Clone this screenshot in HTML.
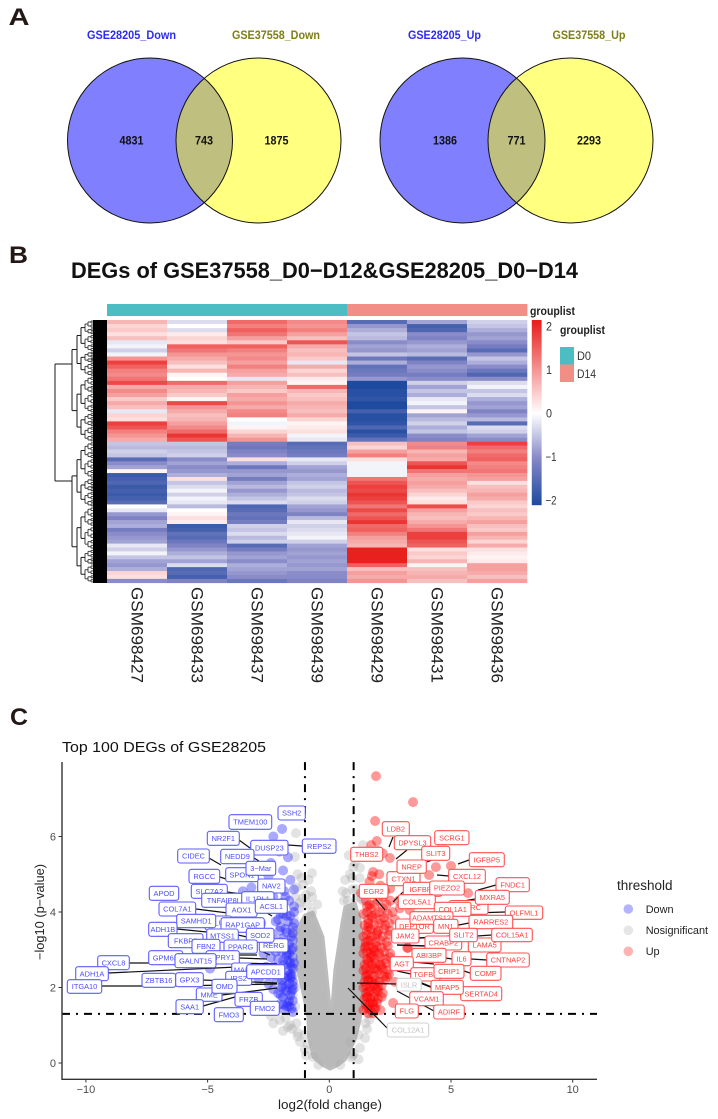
<!DOCTYPE html>
<html>
<head>
<meta charset="utf-8">
<title>DEG figure</title>
<style>
html,body{margin:0;padding:0;background:#fff;width:718px;height:1119px;overflow:hidden}
svg{display:block;filter:blur(.35px)}
text{font-family:"Liberation Sans",sans-serif}
</style>
</head>
<body>
<svg id="fig" xmlns="http://www.w3.org/2000/svg" width="718" height="1119" viewBox="0 0 718 1119">
  <defs>
    <clipPath id="clipA"><circle cx="150" cy="140.500" r="82.500"/></clipPath>
    <clipPath id="clipB"><circle cx="462.500" cy="140.500" r="82.500"/></clipPath>
    <clipPath id="plotClip"><rect x="62" y="762" width="535" height="317"/></clipPath>
  </defs>

  <text x="8.500" y="25" font-size="24" font-weight="bold" fill="#231815" textLength="21" lengthAdjust="spacingAndGlyphs">A</text>
  <text x="9" y="263" font-size="24" font-weight="bold" fill="#231815" textLength="19" lengthAdjust="spacingAndGlyphs">B</text>
  <text x="10" y="725" font-size="24" font-weight="bold" fill="#231815" textLength="18" lengthAdjust="spacingAndGlyphs">C</text>

  <g>
    <text x="87" y="39" font-size="11.500" font-weight="bold" fill="#2b2bf5" textLength="89" lengthAdjust="spacingAndGlyphs">GSE28205_Down</text>
    <text x="232" y="39" font-size="11.500" font-weight="bold" fill="#7f7f14" textLength="88" lengthAdjust="spacingAndGlyphs">GSE37558_Down</text>
    <circle cx="150" cy="140.500" r="82.500" fill="#8080ff"/>
    <circle cx="258.500" cy="140.500" r="82.500" fill="#ffff80"/>
    <circle cx="258.500" cy="140.500" r="82.500" fill="#bfbf80" clip-path="url(#clipA)"/>
    <circle cx="150" cy="140.500" r="82.500" fill="none" stroke="#111" stroke-width="1"/>
    <circle cx="258.500" cy="140.500" r="82.500" fill="none" stroke="#111" stroke-width="1"/>
    <text x="131.500" y="144.500" font-size="12" font-weight="bold" text-anchor="middle" fill="#111" textLength="24" lengthAdjust="spacingAndGlyphs">4831</text>
    <text x="204" y="144.500" font-size="12" font-weight="bold" text-anchor="middle" fill="#111" textLength="18" lengthAdjust="spacingAndGlyphs">743</text>
    <text x="276.500" y="144.500" font-size="12" font-weight="bold" text-anchor="middle" fill="#111" textLength="24" lengthAdjust="spacingAndGlyphs">1875</text>
  </g>
  <g>
    <text x="408" y="39" font-size="11.500" font-weight="bold" fill="#2b2bf5" textLength="73" lengthAdjust="spacingAndGlyphs">GSE28205_Up</text>
    <text x="552.500" y="39" font-size="11.500" font-weight="bold" fill="#7f7f14" textLength="73" lengthAdjust="spacingAndGlyphs">GSE37558_Up</text>
    <circle cx="462.500" cy="140.500" r="82.500" fill="#8080ff"/>
    <circle cx="570.500" cy="140.500" r="82.500" fill="#ffff80"/>
    <circle cx="570.500" cy="140.500" r="82.500" fill="#bfbf80" clip-path="url(#clipB)"/>
    <circle cx="462.500" cy="140.500" r="82.500" fill="none" stroke="#111" stroke-width="1"/>
    <circle cx="570.500" cy="140.500" r="82.500" fill="none" stroke="#111" stroke-width="1"/>
    <text x="445" y="144.500" font-size="12" font-weight="bold" text-anchor="middle" fill="#111" textLength="24" lengthAdjust="spacingAndGlyphs">1386</text>
    <text x="516.500" y="144.500" font-size="12" font-weight="bold" text-anchor="middle" fill="#111" textLength="18" lengthAdjust="spacingAndGlyphs">771</text>
    <text x="589" y="144.500" font-size="12" font-weight="bold" text-anchor="middle" fill="#111" textLength="24" lengthAdjust="spacingAndGlyphs">2293</text>
  </g>

  <text x="71" y="278" font-size="22.500" font-weight="bold" fill="#111" textLength="507" lengthAdjust="spacingAndGlyphs">DEGs of GSE37558_D0&#8722;D12&amp;GSE28205_D0&#8722;D14</text>

  <g id="heatmap"></g>

  <text x="530" y="315" font-size="11.500" font-weight="bold" fill="#222" textLength="45" lengthAdjust="spacingAndGlyphs">grouplist</text>
  <text x="560" y="334" font-size="11.500" font-weight="bold" fill="#222" textLength="45" lengthAdjust="spacingAndGlyphs">grouplist</text>
  <rect x="560" y="347" width="14" height="17.500" fill="#4dbdc4"/>
  <rect x="560" y="364.500" width="14" height="17.500" fill="#f28e85"/>
  <text x="577" y="360" font-size="12" fill="#333" textLength="14" lengthAdjust="spacingAndGlyphs">D0</text>
  <text x="577" y="378" font-size="12" fill="#333" textLength="19" lengthAdjust="spacingAndGlyphs">D14</text>

  <g id="colorbar"></g>
  <g id="dendrogram"></g>
  <g id="colLabels"></g>

  <text x="62" y="752" font-size="14.500" fill="#111" textLength="204" lengthAdjust="spacingAndGlyphs">Top 100 DEGs of GSE28205</text>
  <g id="volcano"></g>
  <text x="278" y="1109" font-size="13" fill="#222" textLength="104" lengthAdjust="spacingAndGlyphs">log2(fold change)</text>
  <text x="0" y="0" transform="translate(44 960) rotate(-90)" font-size="12.500" fill="#222" textLength="96" lengthAdjust="spacingAndGlyphs">&#8722;log10 (p&#8722;value)</text>

  <g>
    <text x="617" y="890" font-size="13.500" fill="#222">threshold</text>
    <circle cx="628.300" cy="909" r="4.800" fill="#b3b3ff"/>
    <circle cx="628.300" cy="930.300" r="4.800" fill="#e6e6e6"/>
    <circle cx="628.300" cy="951.300" r="4.800" fill="#ffb3b3"/>
    <text x="645.700" y="912.800" font-size="10.900" fill="#222">Down</text>
    <text x="645.700" y="934" font-size="10.900" fill="#222">Nosignificant</text>
    <text x="645.700" y="955" font-size="10.900" fill="#222">Up</text>
  </g>
</svg>

<script>
// ---------- Heatmap data ----------
const sampleNames = ["GSM698427","GSM698433","GSM698437","GSM698439","GSM698429","GSM698431","GSM698436"];
const sampleGroups = ["D0","D0","D0","D0","D14","D14","D14"];
const colorbarTicks = [2,1,0,-1,-2];
const gsm698427 = [.7,.4,.5,.3,.6,-.2,-.1,-.4,-.1,1.0,1.8,1.5,1.2,1.1,1.3,1.7,.8,1.1,.9,.5,.8,.6,-.2,.4,.3,1.8,1.6,1.2,1.0,.8,
  -.5,-.6,-.4,-.5,-1.5,-1.0,-.8,.1,-1.8,-1.7,-1.6,-1.8,-1.7,-1.8,-1.7,-1.5,0,-.2,-.9,-1.1,-.8,-.7,-1.2,-1.0,-.9,-.8,-.2,-.4,-.1,-.5,-.8,-.9,-.7,.4,.3,-1.0];
const gsm698433 = [-.3,0,-.3,.2,.4,.3,1.5,1.3,1.0,.8,.6,.3,.7,.1,0,1.4,.8,.7,.5,.1,1.7,1.0,.8,.6,.7,.9,1.1,1.4,1.9,1.6,
  -.5,-.6,-.5,-.4,-1.0,-.8,-1.0,-.9,-.7,.3,-.5,-.3,-.1,-.4,-.1,-.2,-.6,0,.1,.3,.2,-1.8,-1.7,-1.4,-1.5,-1.3,-1.1,-.9,-.7,-.5,-.8,-.3,-1.6,-1.5,-1.7,-1.1];
const gsm698437 = [1.4,1.2,1.5,1.3,.9,.5,1.5,1.2,1.0,1.1,.9,1.2,.9,.8,-.2,.9,.7,.5,.9,.8,1.0,.8,1.1,1.2,0,-.1,.1,.4,.7,1.0,
  -1.2,-1.3,-1.1,-1.0,.3,-.7,-1.3,-.9,-.8,-1.2,-.8,-.6,-.9,-.7,-.5,-.3,-1.6,-1.5,-1.3,-1.4,-1.2,-.4,-.5,-.3,-.6,-.4,-1.5,-1.2,-.9,-.8,-1.0,-.7,-.8,-.9,-1.0,-1.3];
const gsm698439 = [1.1,1.0,1.2,.9,.6,1.6,.8,.6,.7,.5,-.2,.8,.4,.6,.2,.1,1.4,.7,.5,.6,.8,.7,.6,.8,.4,.1,.2,.3,-.1,-.2,
  -1.5,-1.4,-1.3,-1.2,-.2,-.4,-.8,-.9,-.7,-.8,-.5,-.4,-.6,-.5,-.3,-.4,-.8,-.9,-1.1,-.6,-.2,-.4,-.3,-.2,-.1,-.4,-.8,-.9,-.8,-.9,-.8,-.9,-.8,-1.0,-1.0,-1.1];
const gsm698429 = [-1.5,-.9,-.7,-.5,-.6,-1.0,-.8,-.9,-.5,-1.3,-.7,-1.4,-1.3,-1.2,-.9,-2.1,-2.1,-2.0,-2.0,-1.9,-2.1,-2.1,-1.7,-2.0,-2.0,-1.9,-1.6,-2.0,-1.8,-1.4,
  .6,.4,.9,1.2,.3,-.1,-.1,-.1,-.1,1.3,1.6,1.8,1.7,1.9,1.8,1.6,1.3,1.7,1.4,1.6,1.9,1.4,1.5,1.2,.9,.8,.7,2.2,2.2,2.2,2.2,1.5,.6,.9,.8,1.0];
const gsm698431 = [-.8,-1.7,-1.6,-1.0,-1.1,-.9,-.7,-.8,-.6,-1.5,-1.1,-.9,-1.0,-1.2,-1.0,-.4,-.8,-.5,-.7,-.2,-.1,-.5,.1,-.8,-.6,-.4,-.7,-.5,-1.0,-1.1,
  1.1,1.2,.7,.9,.8,1.6,1.9,1.3,.9,.8,.9,.8,.6,.4,.2,.3,1.7,.9,.7,.6,.8,1.0,1.3,1.8,1.8,1.6,1.5,.3,.5,.4,.7,.1,.6,.7,.8,.6];
const gsm698436 = [-.4,-.5,-.7,-.9,-.8,-1.0,-1.2,-1.5,-.9,-.5,-.7,-1.0,-1.3,-1.6,-1.0,-.3,-.1,-.5,-.3,-.7,-.9,-.8,-1.1,-.9,-.6,-1.5,-.3,-.4,-.8,-1.0,
  1.8,1.4,1.2,1.4,1.5,1.1,1.2,1.3,1.0,.9,.3,.6,.7,.9,.8,.5,.4,.6,.5,.7,.9,.6,.5,.9,.7,.4,.8,.3,.2,.1,.2,.9,.9,.8,.6,.9];
const heatColumns = [gsm698427,gsm698433,gsm698437,gsm698439,gsm698429,gsm698431,gsm698436];

// ---------- Volcano data ----------
const xTicks = [-10,-5,0,5,10];
const yTicks = [0,2,4,6];
const bodyX = [.03,-.3,-.67,-.85,-.88,-1.08,-1.29,-1.33,-1.29,-1.0,-.67,-.26,.03,.11,.23,.52,.64,1.06,1.26,1.38,1.38,1.38,1.26,1.06,.64,.35];
const bodyY = [-.16,-.05,.16,.7,1.22,1.85,2.46,3.07,3.60,3.92,4.0,3.34,1.48,1.48,2.46,3.71,4.13,4.24,3.79,3.18,2.38,1.67,1.14,.61,.08,-.06];
const grayX = [-1.37,-1.41,-.71,-1.08,-1.35,-.75,-1.1,-.9,-1.25,-.7,-1.4,-1.45,-1.45,-1.4,-1.4,-2.03,-1.53,-1.2,-.67,1.26,1.47,1.55,1.65,-1.8,-1.6,-1.3,-1.0,1.38,.98,1.26,.93,.55,.75,1.1,1.45,.6,1.3,.9,1.5,1.5,1.45,1.0,
  -1.45,-1.5,-1.55,-1.5,-1.5,-1.2,-.95,-.7,-.5,-1.15,-.85,-1.4,-1.3,.7,.95,1.2,.65,.85,1.05,1.25,1.4,.8,-1.7,-1.3,-1.0,-1.35,-.9,-.95,-.45,.45,.95,1.2,.85,1.2,1.5,1.65,-2.3,-1.9,-2.4];
const grayY = [6.09,5.46,5.03,4.72,4.65,4.55,4.35,4.2,4.1,4.0,3.5,3.0,2.5,2.0,1.5,1.14,.9,.56,.16,.4,.66,.9,1.15,1.2,1.0,.8,.35,5.77,5.19,5.17,4.9,4.55,4.3,4.6,3.9,4.3,4.35,.15,2.9,2.2,1.6,.25,
  3.8,3.4,2.7,2.3,1.8,4.25,4.45,4.4,4.2,4.9,4.85,4.4,5.0,4.5,4.6,4.4,4.85,5.0,5.3,4.9,4.3,5.5,.95,.7,.75,1.05,.5,.2,-.05,-.05,.2,.1,.55,.75,1.05,1.3,1.05,.85,1.25];
const downX = [-1.94,-2.3,-2.05,-1.7,-2.4,-1.9,-2.5,-1.6,-3.2,-3.55,-2.1,-1.85,-1.45,-2.3,-1.65,-1.95,-1.45,-2.15,-1.9,-1.6,-2.1,-1.7,-1.45,-1.5,-1.8,-2.05,-1.55,-1.9,-1.65,-2.2,-1.5,-1.95,-1.75,-1.5,-2.1,-1.6,-1.85,-1.5,-2.3,-1.7,-2.0,-1.55,-1.8,-1.5,-2.15,-1.65,-1.9,-1.5,-1.75,-2.3,-1.6,-1.9,-1.5,-1.7,-2.05,-1.55,-1.85,-2.3,-3.1,-2.7,-2.9,-2.5,-2.6,-2.45,-2.8,-3.4,-4.9,-2.2,-1.5,-1.75,-1.6,-1.95,-1.65,-2.0,-2.4,
  -1.75,-2.0,-1.55,-1.8,-2.2,-1.65,-1.9,-1.45,-2.15,-1.7,-1.95,-1.5,-1.8,-2.1,-1.55,-1.65,-1.9,-1.5,-1.75,-2.0,-1.7,-1.55,-1.6,-1.5,-1.75,-2.0,-2.3,-2.25,-1.45,-1.8];
const downY = [6.2,6.0,5.6,5.45,5.3,5.1,4.95,4.85,4.65,4.55,4.7,4.55,4.6,4.4,4.3,4.25,4.15,4.1,3.95,3.9,3.8,3.75,3.7,3.6,3.55,3.5,3.35,3.3,3.15,3.1,3.05,2.95,2.85,2.8,2.75,2.65,2.6,2.5,2.55,2.45,2.4,2.3,2.25,2.15,2.2,2.1,2.05,1.95,1.9,1.95,1.8,1.75,1.65,1.6,1.55,1.45,1.4,1.4,2.35,2.9,2.2,2.1,2.55,3.3,3.7,3.8,2.5,3.75,3.25,2.9,2.35,2.0,1.5,3.6,2.8,
  3.45,3.2,3.0,3.05,2.95,2.9,2.7,2.65,2.5,2.3,2.2,2.05,2.0,1.85,1.9,1.65,1.55,1.35,1.5,1.8,2.7,2.55,2.25,3.45,3.9,3.95,3.3,2.35,4.0,4.4];
const upX = [1.92,3.44,1.88,1.95,1.72,2.49,2.2,2.0,1.8,4.38,5.0,4.1,5.7,5.29,2.6,2.05,1.75,2.3,1.3,2.1,1.85,1.65,2.5,2.2,2.85,3.3,
  1.5,2.0,2.5,1.7,2.2,2.9,1.4,1.9,2.4,1.6,2.1,2.7,1.45,1.85,2.3,1.55,2.0,2.5,1.4,1.75,2.2,2.8,1.5,1.9,2.35,1.45,1.8,2.15,3.2,1.4,1.7,2.05,2.5,1.55,1.9,2.3,1.45,1.75,2.1,2.6,1.4,1.65,2.0,2.4,1.5,1.85,2.25,1.45,1.75,2.05,2.7,1.4,1.65,2.0,1.5,1.85,2.2,1.45,1.7,2.0,1.5,1.8,2.62,1.4,1.7,2.1,3.23,2.37,
  1.6,1.95,1.5,1.75,2.15,1.6,1.9,1.55,1.85,1.6,1.95,1.55,1.8,1.6,1.9,1.55,1.75,1.6,1.85,1.6,
  1.65,1.85,2.35,1.55,2.05,2.6,1.75,2.25,1.6,2.05,2.45,1.7,2.25,1.55,1.95,2.45,1.7,2.1,1.6,1.95,2.4,1.55,1.85,2.25,1.7,2.1,2.5,1.6,1.9,2.3,1.5,1.8,2.2,1.65,2.05,2.45,1.6,1.9,2.3,1.5,1.8,2.15,1.65,2.0,1.55,1.85,2.15,1.65,1.95,1.55,1.85,1.6,1.8];
const upY = [7.6,6.91,6.41,5.88,5.77,5.43,5.55,5.62,5.06,5.19,5.22,4.98,4.5,4.74,4.9,5.0,4.95,4.55,4.5,4.7,4.55,4.8,4.62,4.4,4.3,4.05,
  4.3,4.3,4.3,4.1,4.1,4.1,3.95,3.95,3.95,3.8,3.8,3.8,3.65,3.65,3.65,3.5,3.5,3.5,3.35,3.35,3.35,3.35,3.2,3.2,3.2,3.05,3.05,3.05,3.05,2.9,2.9,2.9,2.9,2.75,2.75,2.75,2.6,2.6,2.6,2.6,2.45,2.45,2.45,2.45,2.3,2.3,2.3,2.15,2.15,2.15,2.15,2.0,2.0,2.0,1.85,1.85,1.85,1.7,1.7,1.7,1.55,1.55,1.59,1.4,1.4,1.4,3.05,2.28,
  3.6,3.45,3.1,2.85,2.55,2.7,2.5,2.35,2.1,1.9,1.95,1.75,1.6,1.5,1.45,4.15,3.9,3.25,3.0,2.2,
  4.2,4.2,4.2,4.0,4.0,4.0,3.85,3.85,3.7,3.7,3.7,3.55,3.55,3.4,3.4,3.4,3.25,3.25,3.1,3.1,3.1,2.95,2.95,2.95,2.8,2.8,2.8,2.65,2.65,2.65,2.5,2.5,2.5,2.35,2.35,2.35,2.2,2.2,2.2,2.05,2.05,2.05,1.9,1.9,1.75,1.75,1.75,1.6,1.6,1.45,1.45,1.32,1.32];
const thresholdX = [-1,1];
const thresholdY = 1.3;

// ---------- Shared helpers ----------
const NS = "http://www.w3.org/2000/svg";
function make(tag, parent, attrs){
  const el = document.createElementNS(NS, tag);
  for(const k in attrs) el.setAttribute(k, attrs[k]);
  parent.appendChild(el);
  return el;
}
function mix(a,b,t){return a.map((v,i)=>Math.round(v+(b[i]-v)*t));}
function heatColor(v){
  const t = Math.max(-1,Math.min(1,v/2.1));
  let c;
  if(t>=0) c = mix([255,255,255],[232,32,30],t);
  else if(t>-.5) c = mix([255,255,255],[132,134,198],-t*2);
  else c = mix([132,134,198],[30,74,159],(-t-.5)*2);
  return "rgb("+c.join(",")+")";
}

// ---------- Heatmap ----------
const heat = document.getElementById("heatmap");
const heatLeft = 107, colW = 60, heatTop = 320, heatMid = 441.7, heatBottom = 582.8;
const topRows = 30;
function colX(c){return heatLeft + c*colW;}
function rowY(r){
  if(r<=topRows) return heatTop + (heatMid-heatTop)*r/topRows;
  return heatMid + (heatBottom-heatMid)*(r-topRows)/(gsm698427.length-topRows);
}
sampleGroups.forEach((g,c)=>{
  const a = make("rect",heat,{x:colX(c),y:304,width:colW+.4,height:12,fill:g==="D0"?"#4dbdc4":"#f28e85"});
  
  
});
heatColumns.forEach((col,c)=>{
  col.forEach((v,r)=>{
    const cell = make("rect",heat,{x:colX(c),y:rowY(r),width:colW+.3,height:rowY(r+1)-rowY(r)+.3,fill:heatColor(v)});
    
    
  });
});

// Colorbar
const cbar = document.getElementById("colorbar");
const cbY = v => 413 - v*43.5;
for(let py=320;py<505;py+=1){
  const seg = make("rect",cbar,{x:531.8,y:py,width:9.8,height:1.2,fill:heatColor((413-py)/43.5)});
  
  
}
colorbarTicks.forEach(v=>{
  const t = make("text",cbar,{x:v<0?545.5:546,y:cbY(v)+4.5,"font-size":12,fill:"#333"});
  
  
  t.setAttribute('textLength',v<0?11:6);
  t.setAttribute('lengthAdjust','spacingAndGlyphs');
  t.textContent = v<0 ? "\u2212"+(-v) : String(v);
});

// Column labels
const labelsG = document.getElementById("colLabels");
sampleNames.forEach((n,c)=>{
  const t = make("text",labelsG,{transform:"translate("+(colX(c)+24.5)+" 587) rotate(90)","font-size":17,fill:"#222"});
  
  
  t.setAttribute('textLength',96);
  t.setAttribute('lengthAdjust','spacingAndGlyphs');
  t.textContent = n;
});

// Dendrogram
const dendro = document.getElementById("dendrogram");
const treeXs = [72,77,81,85,88,91];
function treeLine(x1,y1,x2,y2,level){
  const l = make("line",dendro,{x1:x1,y1:y1,x2:x2,y2:y2,stroke:level>2?"#444":"#1a1a1a","stroke-width":1});
  
  
}
function treeNode(y0,y1,level){
  if(level>=treeXs.length) return (y0+y1)/2;
  const f = level%2 ? .56 : .46;
  const split = y0+(y1-y0)*f;
  const a = treeNode(y0,split,level+1), b = treeNode(split,y1,level+1);
  const x = treeXs[level], nx = level+1<treeXs.length ? treeXs[level+1] : 93;
  treeLine(x,a,x,b,level);
  treeLine(x,a,nx,a,level);
  treeLine(x,b,nx,b,level);
  return (a+b)/2;
}
const treeTop = treeNode(heatTop,heatMid,0);
const treeBottom = treeNode(heatMid,heatBottom,0);
treeLine(55,364,55,481,0);
treeLine(55,364,72,364,0);
treeLine(55,481,72,481,0);
const leafBlock = make("rect",dendro,{x:93,y:320,width:14,height:263,fill:"#000"});



// ---------- Volcano ----------
const vol = document.getElementById("volcano");
const sx = v => 329.3 + v*24.34;
const sy = v => 1063 - v*37.75;

const bodyPts = bodyX.map((x,i)=>sx(x)+","+sy(bodyY[i])).join(" ");
const body = make("polygon",vol,{points:bodyPts,fill:"#b9b9b9",stroke:"#bcbcbc","stroke-width":3,"stroke-linejoin":"round","clip-path":"url(#plotClip)"});



function drawPoints(xs,ys,fill,name){
  xs.forEach((x,i)=>{
    const c = make("circle",vol,{cx:sx(x),cy:sy(ys[i]),r:5,fill:fill});
    
    
  });
}
drawPoints(grayX,grayY,"rgba(170,170,170,.33)","point-nosignificant");
drawPoints(downX,downY,"rgba(40,40,255,.4)","point-down");
drawPoints(upX,upY,"rgba(255,0,0,.4)","point-up");

// Thresholds
const dashPattern = "8 6 2 6";
thresholdX.forEach(v=>{
  const l = make("line",vol,{x1:sx(v),x2:sx(v),y1:sy(7.97),y2:1079,stroke:"#000","stroke-width":2,"stroke-dasharray":dashPattern});
  
  
});
const hLine = make("line",vol,{x1:62,x2:597,y1:sy(thresholdY),y2:sy(thresholdY),stroke:"#000","stroke-width":2,"stroke-dasharray":dashPattern});



// Axes
const xAxis = make("line",vol,{x1:61.5,x2:597,y1:1079.3,y2:1079.3,stroke:"#333","stroke-width":1.4});


const yAxis = make("line",vol,{x1:62,x2:62,y1:762,y2:1080,stroke:"#333","stroke-width":1.4});


xTicks.forEach(v=>{
  const tk = make("line",vol,{x1:sx(v),x2:sx(v),y1:1079,y2:1082.5,stroke:"#333","stroke-width":1});
  
  
  const t = make("text",vol,{x:sx(v),y:1093,"font-size":11,"text-anchor":"middle",fill:"#4d4d4d"});
  
  
  t.textContent = v<0 ? "\u2212"+(-v) : String(v);
});
yTicks.forEach(v=>{
  const tk = make("line",vol,{x1:58.5,x2:62,y1:sy(v),y2:sy(v),stroke:"#333","stroke-width":1});
  
  
  const t = make("text",vol,{x:56,y:sy(v)+4,"font-size":11,"text-anchor":"end",fill:"#4d4d4d"});
  
  
  t.textContent = String(v);
});

// Leader lines
function leader(x1,y1,x2,y2,w){
  const l = make("line",vol,{x1:x1,y1:y1,x2:x2,y2:y2,stroke:"#111","stroke-width":w||1.2});
  
  
}
leader(288,845,302,846); leader(239,840,250,848); leader(254,858,259,861); leader(209,858,221,865);
leader(220,877,226,879); leader(227,892,242,894); leader(196,909,228,913); leader(267,913,272,916);
leader(177,929,207,932); leader(238,935,247,937); leader(239,958,267,959); leader(239,955,257,955);
leader(129,963,149,963); leader(237,963,277,964); leader(108,973,237,967); leader(102,986,142,986);
leader(176,986,277,984); leader(203,980,277,983); leader(222,995,277,988); leader(203,1006,235,997);
leader(263,952,270,955);
leader(393,837,389,847); leader(407,850,396,859); leader(432,860,427,862); leader(469,860,458,864);
leader(449,876,437,875); leader(496,885,478,890); leader(475,899,458,902); leader(403,892,393,902);
leader(375,898,385,910); leader(505,912,473,913); leader(469,923,433,930); leader(492,935,477,936);
leader(450,936,419,938,1.5); leader(397,945,427,946,1.5); leader(487,960,471,959); leader(452,959,446,958);
leader(413,962,434,964); leader(470,973,464,971); leader(397,971,411,974); leader(357,983,397,984);
leader(421,983,431,987,1.8); leader(348,988,387,1028); leader(397,991,434,1011);

// Gene labels
const labelStyles = {
  blue:{stroke:"#5c5cff",text:"#4c4cff"},
  red:{stroke:"#ff5050",text:"#ff4040"},
  gray:{stroke:"#d0d0d0",text:"#c2c2c2"}
};
function geneLabel(name,x0,x1,y0,y1,kind){
  const st = labelStyles[kind];
  const g = make("g",vol,{});
  
  
  make("rect",g,{x:x0,y:y0,width:x1-x0,height:y1-y0,rx:2.5,ry:2.5,fill:"#fff",stroke:st.stroke,"stroke-width":1.1});
  const t = make("text",g,{x:(x0+x1)/2,y:(y0+y1)/2+2.7,"font-size":7.4,"text-anchor":"middle",fill:st.text});
  t.textContent = name;
}
// down-regulated labels, painter's order
geneLabel("SSH2",278,305.3,806,820,"blue");
geneLabel("TMEM100",229,271.7,814.7,829.3,"blue");
geneLabel("NR2F1",207.3,239.3,831.3,845.3,"blue");
geneLabel("DUSP23",250.7,288,840.3,855,"blue");
geneLabel("REPS2",302.3,336,839,853.3,"blue");
geneLabel("CIDEC",177.7,209.3,849,863,"blue");
geneLabel("NEDD9",220.7,254,849.3,863.7,"blue");
geneLabel("SPON1",225.7,258.3,867.7,881.7,"blue");
geneLabel("3\u2212Mar",246,275.7,861.3,875.3,"blue");
geneLabel("RGCC",189,219.7,869.3,883.3,"blue");
geneLabel("NAV2",257.7,285,879,893,"blue");
geneLabel("APOD",149.3,178.7,886.3,900.3,"blue");
geneLabel("SLC7A2",191.3,227.3,884.3,898.3,"blue");
geneLabel("TNFAIP8L3",201.7,250,893.3,907.3,"blue");
geneLabel("IL1RL1",241.7,274,891.7,905.7,"blue");
geneLabel("COL7A1",159,195.7,902,916,"blue");
geneLabel("AOX1",226,257,903,917,"blue");
geneLabel("ACSL1",255.3,287.3,899.3,913.3,"blue");
geneLabel("GLUL",205,232,916,930,"blue");
geneLabel("SAMHD1",176.7,215.7,914.3,927.7,"blue");
geneLabel("RAP1GAP",221,264.3,917.7,932.3,"blue");
geneLabel("ADH1B",148.7,177,922.3,936.3,"blue");
geneLabel("MTSS1",206.7,238.3,929,942.3,"blue");
geneLabel("FKBP5",168.3,203,933.7,947.7,"blue");
geneLabel("RERG",259.3,288,938.7,952,"blue");
geneLabel("SOD2",246.3,274,928.3,942.3,"blue");
geneLabel("FBN2",192,220,939.3,953.3,"blue");
geneLabel("PPARG",224,257.3,940,953.3,"blue");
geneLabel("GPM6B",148.7,182.7,950.7,964.7,"blue");
geneLabel("SPRY1",206,239.3,950.7,964,"blue");
geneLabel("GALNT15",175,216,953.7,967.7,"blue");
geneLabel("CXCL8",97.7,129.3,955.7,969.7,"blue");
geneLabel("MAF",231.7,251.7,963,977,"blue");
geneLabel("ADH1A",75.7,108.3,966.7,980.7,"blue");
geneLabel("IRS2",225.7,251.7,971.3,985.3,"blue");
geneLabel("APCDD1",246.7,284.7,964.7,978.7,"blue");
geneLabel("ZBTB16",142,175.7,973.3,987.3,"blue");
geneLabel("GPX3",175.7,203.3,972.7,986.7,"blue");
geneLabel("ITGA10",67.3,101.7,979.7,993.3,"blue");
geneLabel("MME",196.3,222,988,1001.3,"blue");
geneLabel("OMD",212,237,979.3,993.3,"blue");
geneLabel("FRZB",235,262.3,992.3,1006.3,"blue");
geneLabel("SAA1",176,203.3,999.7,1013.7,"blue");
geneLabel("FMO3",214.3,243.3,1007.7,1021.7,"blue");
geneLabel("FMO2",250.3,279.3,1001.3,1015.3,"blue");
// up-regulated labels, painter's order
geneLabel("LDB2",382.3,409.3,821.7,836,"red");
geneLabel("SCRG1",434.7,469,830.7,844.7,"red");
geneLabel("DPYSL3",394.3,430.7,835.7,849.7,"red");
geneLabel("THBS2",350.7,382.7,847.3,861.3,"red");
geneLabel("SLIT3",421.7,449.7,846.3,860.3,"red");
geneLabel("IGFBP5",469.3,504.3,852.7,866.7,"red");
geneLabel("CTXN1",387,420,871.7,885.7,"red");
geneLabel("NREP",397,426.3,860,873.3,"red");
geneLabel("CXCL12",448.7,485.3,869.3,883.3,"red");
geneLabel("FNDC1",496,529.3,877.7,891.7,"red");
geneLabel("IGFBP7",403.3,442,882.3,896.3,"red");
geneLabel("PIEZO2",429.7,464.3,881,895,"red");
geneLabel("EGR2",359.3,388,884.3,898.3,"red");
geneLabel("SPARC",449,488,900.5,914.3,"red");
geneLabel("MXRA5",475.3,509.3,890.3,904.3,"red");
geneLabel("COL5A1",398.3,435.3,894.7,908.7,"red");
geneLabel("COL1A1",434.3,471,902.3,916.3,"red");
geneLabel("OLFML1",505.3,542.7,906,919.3,"red");
geneLabel("DEPTOR",395.7,433.3,919,933.3,"red");
geneLabel("ADAMTS12",410,453,911.7,924.3,"red");
geneLabel("RARRES2",469,512.7,915.3,928.7,"red");
geneLabel("MN1",433.7,458,919.3,933.3,"red");
geneLabel("CRABP2",425,461.7,936,950,"red");
geneLabel("LAMA5",468.3,501,938,952,"red");
geneLabel("COL15A1",491.7,532.3,928.3,941.7,"red");
geneLabel("SLIT2",449.7,477.3,928.3,941.7,"red");
geneLabel("JAM2",391.7,419,929,943,"red");
geneLabel("ABI3BP",412,446,948.3,962.3,"red");
geneLabel("IL6",452,471,951.7,965.7,"red");
geneLabel("CNTNAP2",486.7,529.3,953,967,"red");
geneLabel("AGT",390.3,413.3,956.7,970.7,"red");
geneLabel("TGFB1",410.7,440,967.7,981,"red");
geneLabel("CRIP1",434,464,964.3,978.3,"red");
geneLabel("COMP",470.3,501,966.3,980.3,"red");
geneLabel("ISLR",396.7,421.3,978.3,991,"gray");
geneLabel("SERTAD4",460.7,501.7,986.7,1000.7,"red");
geneLabel("MFAP5",431,463.3,980.3,994.3,"red");
geneLabel("VCAM1",409.7,443.3,991.7,1005.7,"red");
geneLabel("FLG",395.3,418.3,1004,1018,"red");
geneLabel("ADIRF",433.7,464.3,1005,1019,"red");
geneLabel("COL12A1",387.3,428.7,1023,1037,"gray");
</script>
</body>
</html>
